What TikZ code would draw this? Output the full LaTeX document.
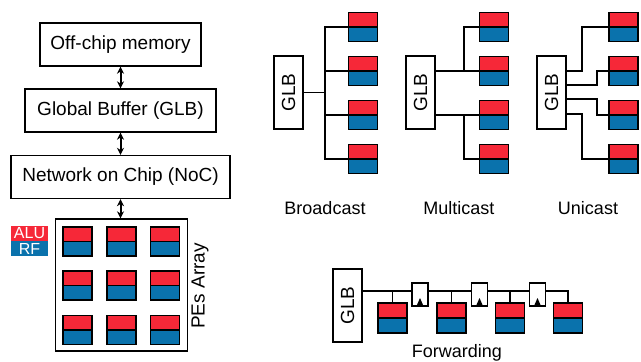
\documentclass[tikz,border=0pt]{standalone}
\usepackage{fontspec}
\setmainfont{Liberation Sans}
\usepackage{tikz}
\usetikzlibrary{arrows,arrows.meta,positioning,calc}
\definecolor{alured}{RGB}{246,40,56}
\definecolor{rfblue}{RGB}{10,114,172}
\tikzset{
    block/.style={
        rectangle,
        draw=black,
        line width=1.4pt,
        fill=white,
        inner sep=0pt,
        font=\fontsize{19}{22}\selectfont,
    },
    glbbox/.style={
        block,
        minimum width=29pt,
        minimum height=73pt,
    },
    pe/.style={
        rectangle,
        draw=black,
        line width=1.8pt,
        inner sep=0pt,
        minimum width=29pt,
        minimum height=29pt,
        path picture={
            \fill[alured] (path picture bounding box.north west) rectangle (path picture bounding box.east);
            \fill[rfblue] (path picture bounding box.west) rectangle (path picture bounding box.south east);
            \draw[line width=1.8pt] (path picture bounding box.west) -- (path picture bounding box.east);
        },
    },
    latch/.style={
        block,
        minimum width=16pt,
        minimum height=23pt,
        path picture={
            \fill[black] (path picture bounding box.south) ++(-3.5,0) -- ++(7,0) -- ++(-3.5,-8) -- cycle;
        },
    },
    legend/.style={
        rectangle,
        inner sep=0pt,
        minimum width=37pt,
        minimum height=15pt,
        text=white,
        font=\fontsize{16}{16}\selectfont,
    },
    wire/.style={line width=1.5pt},
    link/.style={{Stealth[length=7pt,width=7pt]}-{Stealth[length=7pt,width=7pt]}, line width=2pt},
    caption/.style={font=\fontsize{18}{20}\selectfont},
}

\begin{document}
\begin{tikzpicture}[x=1pt,y=-1pt,>=stealth']
    \useasboundingbox (0,0) rectangle (641,362);
    % memory hierarchy
    \node [block, minimum width=161pt, minimum height=43pt] (mem) at (120.5,44.5) {Off-chip memory};
    \node [block, minimum width=191pt, minimum height=43pt] (glb) at (120.5,110.5) {Global Buffer (GLB)};
    \node [block, minimum width=219pt, minimum height=43pt] (noc) at (120.5,177) {Network on Chip (NoC)};
    \node [block, minimum width=132pt, minimum height=132pt] (array) at (121.5,285) {};
    \draw [link] (mem.south) -- (glb.north);
    \draw [link] (glb.south) -- (noc.north);
    \draw [link] (noc.south) -- (noc.south |- array.north);
    \foreach \c/\x in {1/77.5,2/121.5,3/165}
        \foreach \r/\y in {1/241.5,2/285.5,3/330}
            \node [pe] (pe\r\c) at (\x,\y) {};
    \node [caption, font=\fontsize{19}{22}\selectfont, rotate=90] (arraylabel) at (200,286) {PEs Array};
    \node [legend, fill=alured] (alu) at (29.5,233.5) {ALU};
    \node [legend, fill=rfblue, below=0pt of alu] (rf) {RF};

    % broadcast
    \node [glbbox] (bglb) at (288.5,92.5) {\rotatebox{90}{GLB}};
    \foreach \i/\y in {1/27,2/71,3/115,4/159}
        \node [pe] (bpe\i) at (363,\y) {};
    \coordinate (bbus) at (325,92.5);
    \draw [wire] (bglb.east) -- (bbus);
    \draw [wire] (bpe1.west) -| (bbus) |- (bpe4.west);
    \draw [wire] (bpe2.west) -- (bpe2.west -| bbus);
    \draw [wire] (bpe3.west) -- (bpe3.west -| bbus);
    \node [caption] (bcast) at (325,208) {Broadcast};

    % multicast
    \node [glbbox] (mglb) at (420.5,92.5) {\rotatebox{90}{GLB}};
    \foreach \i/\y in {1/27,2/71,3/115,4/159}
        \node [pe] (mpe\i) at (494,\y) {};
    \coordinate (mtap) at (464,0);
    \draw [wire] (mglb.east |- mpe2.west) -- (mpe2.west);
    \draw [wire] (mpe1.west) -| (mtap |- mpe2.west);
    \draw [wire] (mglb.east |- mpe3.west) -- (mpe3.west);
    \draw [wire] (mpe4.west) -| (mtap |- mpe3.west);
    \node [caption] (mcast) at (459,208) {Multicast};

    % unicast
    \node [glbbox] (uglb) at (551.5,92.5) {\rotatebox{90}{GLB}};
    \foreach \i/\y in {1/27,2/71,3/115,4/159}
        \node [pe] (upe\i) at (623.5,\y) {};
    \coordinate (uouter) at (582,0);
    \coordinate (uinner) at (597,0);
    \draw [wire] ($(uglb.east)+(0,-21.5)$) -| (uouter |- upe1.west) -- (upe1.west);
    \draw [wire] ($(uglb.east)+(0,-7.5)$) -| (uinner |- upe2.west) -- (upe2.west);
    \draw [wire] ($(uglb.east)+(0,6.5)$) -| (uinner |- upe3.west) -- (upe3.west);
    \draw [wire] ($(uglb.east)+(0,21.5)$) -| (uouter |- upe4.west) -- (upe4.west);
    \node [caption] (ucast) at (588,208) {Unicast};

    % forwarding
    \node [glbbox] (fglb) at (347.5,305.5) {\rotatebox{90}{GLB}};
    \foreach \i/\x in {1/392.5,2/451.5,3/510,4/568}
        \node [pe, minimum height=30pt] (fpe\i) at (\x,318) {};
    \foreach \i/\x in {1/420,2/479.5,3/537.5}
        \node [latch] (flatch\i) at (\x,294.5) {};
    \coordinate (fbus) at (0,291);
    \draw [wire] (fglb.east |- fbus) -- (flatch1.west |- fbus);
    \draw [wire] (flatch1.east |- fbus) -- (flatch2.west |- fbus);
    \draw [wire] (flatch2.east |- fbus) -- (flatch3.west |- fbus);
    \draw [wire] (flatch3.east |- fbus) -| (fpe4.north);
    \foreach \i in {1,2,3}
        \draw [wire] (fpe\i.north) -- (fpe\i.north |- fbus);
    \node [caption] (fwd) at (457,353) {Forwarding};
\end{tikzpicture}
\end{document}
